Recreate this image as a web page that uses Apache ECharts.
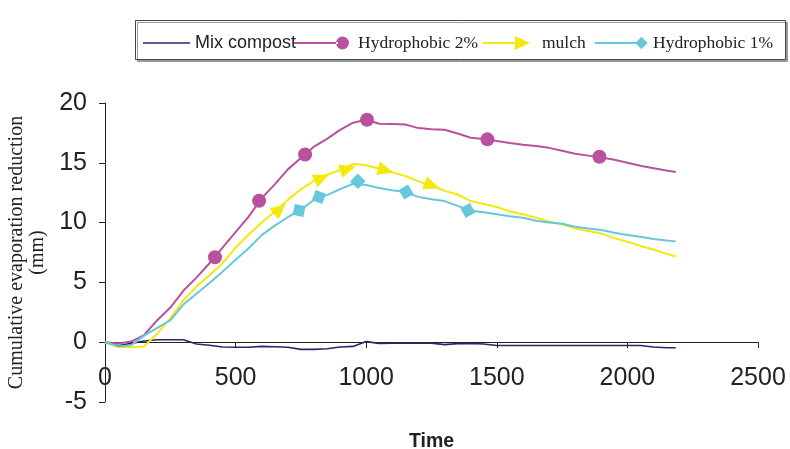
<!DOCTYPE html>
<html>
<head>
<meta charset="utf-8">
<title>Cumulative evaporation reduction</title>
<script src="https://cdn.jsdelivr.net/npm/echarts@6/dist/echarts.min.js"></script>
<style>
  html, body { margin: 0; padding: 0; background: #fff; }
  #main { width: 790px; height: 449px; }
</style>
</head>
<body>
<div id="main"></div>
<script>
// time axis shared by the four curves
var times = [0, 50, 100, 150, 200, 250, 300, 350, 400, 450, 500, 550, 600, 650, 700, 750, 800, 850, 900, 950,
             1000, 1050, 1100, 1150, 1200, 1250, 1300, 1350, 1400, 1450, 1500, 1550, 1600, 1650, 1700, 1750,
             1800, 1850, 1900, 1950, 2000, 2050, 2100, 2150, 2185];

var mixCompost = [0, -0.3, -0.1, 0.1, 0.2, 0.2, 0.2, -0.15, -0.25, -0.4, -0.42, -0.42, -0.35, -0.38, -0.42, -0.6, -0.6, -0.55, -0.4, -0.35,
                  0.05, -0.1, -0.08, -0.08, -0.08, -0.08, -0.2, -0.12, -0.1, -0.15, -0.28, -0.28, -0.28, -0.28, -0.28, -0.28,
                  -0.28, -0.28, -0.28, -0.28, -0.28, -0.28, -0.4, -0.47, -0.47];

var hydro2 = [0, -0.1, 0.05, 0.6, 1.84, 2.9, 4.3, 5.4, 6.6, 7.9, 9.2, 10.5, 12.05, 13.2, 14.45, 15.4, 16.35, 17.0, 17.75, 18.35,
              18.6, 18.27, 18.25, 18.2, 17.9, 17.8, 17.77, 17.45, 17.1, 17.0, 16.82, 16.65, 16.5, 16.4, 16.25, 16.0,
              15.75, 15.6, 15.45, 15.25, 15.0, 14.75, 14.55, 14.35, 14.23];

var mulch = [0, -0.4, -0.42, -0.35, 0.72, 2.0, 3.5, 4.65, 5.6, 6.6, 7.9, 9.0, 10.0, 10.9, 11.9, 12.8, 13.5, 14.0, 14.4, 14.9,
             14.8, 14.5, 14.2, 13.9, 13.45, 13.1, 12.65, 12.35, 11.8, 11.55, 11.3, 10.95, 10.7, 10.4, 10.1, 9.85,
             9.5, 9.3, 9.08, 8.7, 8.4, 8.05, 7.75, 7.4, 7.17];

var hydro1 = [0, -0.35, -0.25, 0.55, 1.2, 1.82, 3.15, 4.05, 4.95, 5.9, 6.9, 7.85, 8.95, 9.75, 10.45, 11.1, 11.9, 12.3, 12.8, 13.25,
              13.15, 12.9, 12.7, 12.55, 12.15, 11.95, 11.8, 11.4, 11.0, 10.86, 10.7, 10.53, 10.4, 10.15, 10.0, 9.9,
              9.65, 9.5, 9.38, 9.15, 8.97, 8.82, 8.62, 8.5, 8.43];

// marker points drawn on the curves
var hydro2MarkT = [421, 590, 766, 1003, 1464, 1893];
var hydro2MarkV = [7.1, 11.83, 15.7, 18.6, 16.96, 15.5];
var mulchMarkT = [670, 830, 930, 1075, 1252];
var mulchMarkV = [11.16, 13.75, 14.5, 14.37, 13.1];
var hydro1MarkT = [743, 819, 968, 1153, 1389];
var hydro1MarkV = [11.02, 12.14, 13.45, 12.56, 11.02];

var xTicks = [0, 500, 1000, 1500, 2000, 2500];
var yTicks = [-5, 0, 5, 10, 15, 20];

var navy = '#27276f', magenta = '#b8519e', yellow = '#f4e80c', cyan = '#66c8da';
var sans = "'Liberation Sans', Arial, sans-serif";
var serif = "'Liberation Serif', 'Times New Roman', serif";

function pairs(t, v) {
    return t.map(function (x, i) { return [x, v[i]]; });
}

function interp(t, v, x) {
    for (var i = 0; i < t.length - 1; i++) {
        if (x <= t[i + 1]) {
            var f = (x - t[i]) / (t[i + 1] - t[i]);
            return v[i] + f * (v[i + 1] - v[i]);
        }
    }
    return v[v.length - 1];
}

// legend icons: line with the series marker on its right end
var iconMix = 'path://M0,0M47,14M0,6.3h47v1.5h-47z';
var iconH2 = 'path://M0,0M59,14M0,6h44v2h-44zM42,7a6.5,6.5 0 1,0 13,0a6.5,6.5 0 1,0 -13,0z';
var iconMulch = 'path://M0,0M54,14M0,6h34v2h-34zM32,0L47,7L32,14z';
var iconH1 = 'path://M0,0M53,14M0,6h42v2h-42zM40.3,7L46.5,0.8L52.7,7L46.5,13.2z';

function legendItem(name, icon, left, w, font, size) {
    return {
        data: [{ name: name, icon: icon, textStyle: { fontFamily: font, fontSize: size, color: '#222' } }],
        left: left, top: 34, padding: 0,
        itemWidth: w, itemHeight: 14,
        selectedMode: false
    };
}

function plain(v) { return String(v); }

var myChart = echarts.init(document.getElementById('main'));

var option = {
    animation: false,
    backgroundColor: '#fff',
    graphic: [{
        type: 'rect',
        shape: { x: 135.5, y: 20.5, width: 650, height: 39 },
        style: { fill: '#fff', stroke: '#444', lineWidth: 1, shadowColor: '#999', shadowOffsetX: 2, shadowOffsetY: 2, shadowBlur: 0 },
        z: -1
    }],
    legend: [
        legendItem('Mix compost', iconMix, 143, 47, sans, 18),
        legendItem('Hydrophobic 2%', iconH2, 294, 59, serif, 17.5),
        legendItem('mulch', iconMulch, 483, 54, serif, 17.5),
        legendItem('Hydrophobic 1%', iconH1, 595, 53, serif, 17.5)
    ],
    grid: { left: 105, right: 32, top: 103, bottom: 47, outerBoundsMode: 'none', containLabel: false },
    xAxis: {
        type: 'value',
        min: xTicks[0], max: xTicks[xTicks.length - 1], interval: 500,
        name: 'Time',
        nameLocation: 'middle',
        nameGap: 30,
        nameMoveOverlap: false,
        nameTextStyle: { fontFamily: sans, fontSize: 19.5, fontWeight: 'bold', color: '#222' },
        axisLine: { onZero: true, lineStyle: { color: '#222', width: 1 } },
        axisTick: { length: 6, lineStyle: { color: '#222' } },
        // labels sit under the zero line, not under the bottom edge
        axisLabel: { fontFamily: sans, fontSize: 25, color: '#222', margin: -36, formatter: plain },
        splitLine: { show: false }
    },
    yAxis: {
        type: 'value',
        min: yTicks[0], max: yTicks[yTicks.length - 1], interval: 5,
        name: 'Cumulative evaporation reduction\n(mm)',
        nameLocation: 'middle',
        nameGap: 57,
        nameMoveOverlap: false,
        nameTextStyle: { fontFamily: serif, fontSize: 20, lineHeight: 21, color: '#222' },
        axisLine: { show: true, lineStyle: { color: '#222', width: 1 } },
        axisTick: { show: true, length: 6, lineStyle: { color: '#222' } },
        axisLabel: { fontFamily: sans, fontSize: 25, color: '#222', margin: 18, formatter: plain },
        splitLine: { show: false }
    },
    series: [
        { id: 'mix', name: 'Mix compost', type: 'line', data: pairs(times, mixCompost), symbol: 'none',
          itemStyle: { color: navy }, lineStyle: { color: navy, width: 1.6 } },
        { id: 'h2', name: 'Hydrophobic 2%', type: 'line', data: pairs(times, hydro2), symbol: 'none',
          itemStyle: { color: magenta }, lineStyle: { color: magenta, width: 2 } },
        { id: 'mulch', name: 'mulch', type: 'line', data: pairs(times, mulch), symbol: 'none',
          itemStyle: { color: yellow }, lineStyle: { color: yellow, width: 2 } },
        { id: 'h1', name: 'Hydrophobic 1%', type: 'line', data: pairs(times, hydro1), symbol: 'none',
          itemStyle: { color: cyan }, lineStyle: { color: cyan, width: 2 } },
        { id: 'h2m', name: 'h2 markers', type: 'scatter', data: pairs(hydro2MarkT, hydro2MarkV),
          symbol: 'circle', symbolSize: 14, itemStyle: { color: magenta, opacity: 1 }, z: 4 },
        { id: 'mulchm', name: 'mulch markers', type: 'scatter', data: pairs(mulchMarkT, mulchMarkV),
          symbol: 'triangle', symbolSize: [14, 16], itemStyle: { color: yellow, opacity: 1 }, z: 4 },
        { id: 'h1m', name: 'h1 markers', type: 'scatter', data: pairs(hydro1MarkT, hydro1MarkV),
          symbol: 'rect', symbolSize: 11, itemStyle: { color: cyan, opacity: 1 }, z: 4 }
    ]
};
myChart.setOption(option);

// turn the arrow and square markers to follow the drawn curve
function heading(t, v, x) {
    var a = myChart.convertToPixel({ gridIndex: 0 }, [x - 40, interp(t, v, x - 40)]);
    var b = myChart.convertToPixel({ gridIndex: 0 }, [x + 40, interp(t, v, x + 40)]);
    return Math.atan2(a[1] - b[1], b[0] - a[0]) * 180 / Math.PI;
}

myChart.setOption({
    series: [
        { id: 'mulchm', data: mulchMarkT.map(function (t, i) {
            return { value: [t, mulchMarkV[i]], symbolRotate: heading(times, mulch, t) - 90 };
        }) },
        { id: 'h1m', data: hydro1MarkT.map(function (t, i) {
            return { value: [t, hydro1MarkV[i]], symbolRotate: heading(times, hydro1, t) - 45 };
        }) }
    ]
});
</script>
</body>
</html>
